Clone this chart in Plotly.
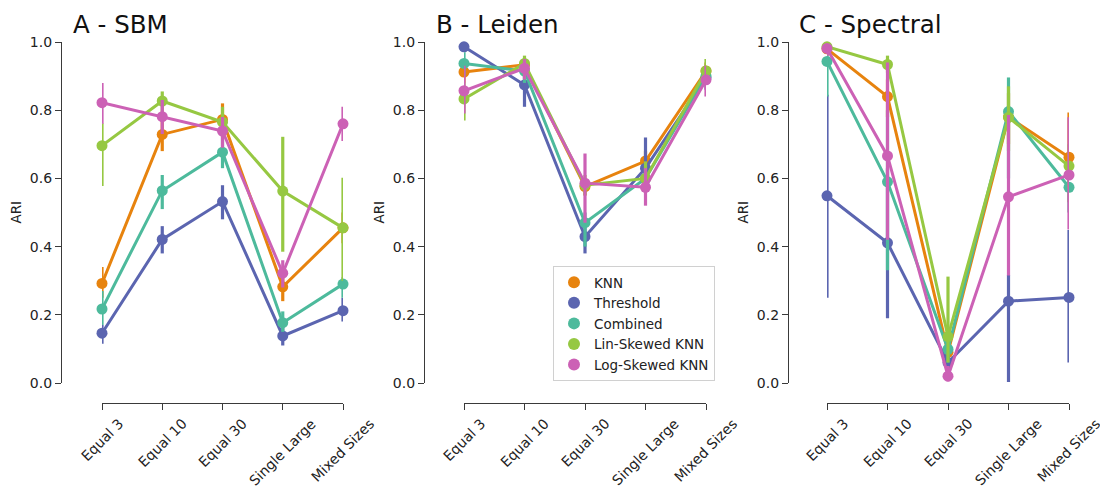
import plotly.graph_objects as go

# The page body has an 8px margin, so the figure is drawn 8px smaller and
# all layout pixel positions (taken from the 1108x489 screenshot) are shifted.
OFF = 8
FW, FH = 1108 - OFF, 489 - OFF

CATEGORIES = ["Equal 3", "Equal 10", "Equal 30", "Single Large", "Mixed Sizes"]
METHODS = ["KNN", "Threshold", "Combined", "Lin-Skewed KNN", "Log-Skewed KNN"]
COLORS = ["#E7830E", "#5B65B0", "#4DBA9C", "#96C842", "#CC61B5"]
PANEL_TITLES = ["A - SBM", "B - Leiden", "C - Spectral"]
YTICKS = [0.0, 0.2, 0.4, 0.6, 0.8, 1.0]

# ---- SBM ----
SBM_KNN = [0.292, 0.729, 0.773, 0.282, 0.455]
SBM_KNN_LO = [0.25, 0.68, 0.72, 0.24, 0.41]
SBM_KNN_HI = [0.34, 0.77, 0.82, 0.33, 0.50]
SBM_THR = [0.146, 0.421, 0.532, 0.138, 0.212]
SBM_THR_LO = [0.115, 0.38, 0.48, 0.11, 0.18]
SBM_THR_HI = [0.17, 0.46, 0.58, 0.17, 0.25]
SBM_COMB = [0.217, 0.564, 0.677, 0.177, 0.290]
SBM_COMB_LO = [0.17, 0.51, 0.63, 0.15, 0.25]
SBM_COMB_HI = [0.27, 0.61, 0.72, 0.21, 0.31]
SBM_LIN = [0.696, 0.827, 0.765, 0.563, 0.455]
SBM_LIN_LO = [0.578, 0.79, 0.73, 0.385, 0.30]
SBM_LIN_HI = [0.762, 0.855, 0.81, 0.722, 0.602]
SBM_LOG = [0.822, 0.781, 0.739, 0.322, 0.760]
SBM_LOG_LO = [0.76, 0.73, 0.69, 0.28, 0.71]
SBM_LOG_HI = [0.88, 0.83, 0.78, 0.36, 0.81]

# ---- Leiden ----
LEI_KNN = [0.912, 0.933, 0.576, 0.651, 0.915]
LEI_KNN_LO = [0.88, 0.91, 0.55, 0.62, 0.89]
LEI_KNN_HI = [0.94, 0.95, 0.60, 0.68, 0.94]
LEI_THR = [0.986, 0.874, 0.429, 0.630, 0.895]
LEI_THR_LO = [0.97, 0.81, 0.38, 0.56, 0.86]
LEI_THR_HI = [1.0, 0.93, 0.47, 0.72, 0.93]
LEI_COMB = [0.937, 0.915, 0.470, 0.600, 0.900]
LEI_COMB_LO = [0.90, 0.88, 0.40, 0.57, 0.87]
LEI_COMB_HI = [0.97, 0.94, 0.50, 0.63, 0.93]
LEI_LIN = [0.833, 0.937, 0.580, 0.600, 0.915]
LEI_LIN_LO = [0.77, 0.90, 0.55, 0.56, 0.88]
LEI_LIN_HI = [0.88, 0.96, 0.61, 0.65, 0.95]
LEI_LOG = [0.857, 0.923, 0.586, 0.574, 0.889]
LEI_LOG_LO = [0.79, 0.89, 0.47, 0.52, 0.84]
LEI_LOG_HI = [0.93, 0.95, 0.673, 0.63, 0.93]

# ---- Spectral ----
SPE_KNN = [0.980, 0.840, 0.09, 0.780, 0.662]
SPE_KNN_LO = [0.96, 0.78, 0.05, 0.70, 0.53]
SPE_KNN_HI = [0.99, 0.89, 0.14, 0.85, 0.793]
SPE_THR = [0.549, 0.411, 0.06, 0.240, 0.251]
SPE_THR_LO = [0.25, 0.19, 0.03, 0.003, 0.06]
SPE_THR_HI = [0.845, 0.63, 0.09, 0.317, 0.449]
SPE_COMB = [0.943, 0.590, 0.099, 0.796, 0.574]
SPE_COMB_LO = [0.84, 0.331, 0.06, 0.60, 0.50]
SPE_COMB_HI = [0.98, 0.80, 0.14, 0.896, 0.64]
SPE_LIN = [0.986, 0.934, 0.136, 0.779, 0.636]
SPE_LIN_LO = [0.97, 0.91, 0.06, 0.68, 0.57]
SPE_LIN_HI = [0.995, 0.96, 0.312, 0.87, 0.70]
SPE_LOG = [0.981, 0.666, 0.02, 0.546, 0.610]
SPE_LOG_LO = [0.96, 0.42, 0.005, 0.315, 0.45]
SPE_LOG_HI = [0.99, 0.94, 0.05, 0.786, 0.779]

PANELS = [
    [(SBM_KNN, SBM_KNN_LO, SBM_KNN_HI), (SBM_THR, SBM_THR_LO, SBM_THR_HI),
     (SBM_COMB, SBM_COMB_LO, SBM_COMB_HI), (SBM_LIN, SBM_LIN_LO, SBM_LIN_HI),
     (SBM_LOG, SBM_LOG_LO, SBM_LOG_HI)],
    [(LEI_KNN, LEI_KNN_LO, LEI_KNN_HI), (LEI_THR, LEI_THR_LO, LEI_THR_HI),
     (LEI_COMB, LEI_COMB_LO, LEI_COMB_HI), (LEI_LIN, LEI_LIN_LO, LEI_LIN_HI),
     (LEI_LOG, LEI_LOG_LO, LEI_LOG_HI)],
    [(SPE_KNN, SPE_KNN_LO, SPE_KNN_HI), (SPE_THR, SPE_THR_LO, SPE_THR_HI),
     (SPE_COMB, SPE_COMB_LO, SPE_COMB_HI), (SPE_LIN, SPE_LIN_LO, SPE_LIN_HI),
     (SPE_LOG, SPE_LOG_LO, SPE_LOG_HI)],
]

# layout geometry (screenshot pixels)
X_DOM = [(102, 343), (464, 706), (827, 1069)]
Y_AXIS_X = [61, 424, 788]
TITLE_X = [71, 434, 797]
YLAB_X = [15, 378, 742]
Y_TOP, Y_BOT, X_AXIS_Y = 42, 383, 403
XLAB_TOP = 413


def px(x):
    return (x - OFF) / FW


def py(y):
    return 1 - (y - OFF) / FH


FONT = "DejaVu Sans"
AX_COLOR = "#3a3a3a"

fig = go.Figure()
layout = dict(
    width=FW, height=FH, margin=dict(l=0, r=0, t=0, b=0, autoexpand=False),
    paper_bgcolor="white", plot_bgcolor="white",
    font=dict(family=FONT, size=14, color="#222"),
    showlegend=True,
    legend=dict(x=px(553), y=py(266), xanchor="left", yanchor="top",
                bgcolor="white", bordercolor="#d0d0d0", borderwidth=1,
                font=dict(family=FONT, size=13.5, color="#222"),
                itemsizing="constant", tracegroupgap=0),
)
annotations = []

for p in range(3):
    sfx = "" if p == 0 else str(p + 1)
    xa, ya = "x" + sfx, "y" + sfx
    for m, (vals, lo, hi) in enumerate(PANELS[p]):
        fig.add_trace(go.Scatter(
            x=CATEGORIES, y=vals, xaxis=xa, yaxis=ya,
            mode="lines+markers", name=METHODS[m], showlegend=False,
            line=dict(color=COLORS[m], width=3),
            marker=dict(color=COLORS[m], size=11),
            cliponaxis=False,
            error_y=dict(type="data", symmetric=False,
                         array=[h - v for h, v in zip(hi, vals)],
                         arrayminus=[v - l for v, l in zip(vals, lo)],
                         color=COLORS[m], thickness=3.2, width=0),
        ))
    layout["xaxis" + sfx] = dict(
        domain=[px(X_DOM[p][0]), px(X_DOM[p][1])], anchor="free",
        position=py(X_AXIS_Y), type="category",
        categoryorder="array", categoryarray=CATEGORIES,
        range=[0, 4], showgrid=False, zeroline=False, automargin=False,
        showline=True, linecolor=AX_COLOR, linewidth=1.2,
        ticks="outside", ticklen=6, tickwidth=1.2, tickcolor=AX_COLOR,
        showticklabels=False,
    )
    layout["yaxis" + sfx] = dict(
        domain=[py(Y_BOT), py(Y_TOP)], anchor="free",
        position=px(Y_AXIS_X[p]), range=[0, 1], automargin=False,
        tickvals=YTICKS, ticktext=[f"{v:.1f}" for v in YTICKS],
        showgrid=False, zeroline=False,
        showline=True, linecolor=AX_COLOR, linewidth=1.2,
        ticks="outside", ticklen=6, tickwidth=1.2, tickcolor=AX_COLOR,
        tickfont=dict(family=FONT, size=14, color="#222"),
    )
    # rotated category labels, centred under each tick (matplotlib style)
    for c in CATEGORIES:
        annotations.append(dict(
            text=c, xref=xa, x=c, yref="paper", y=py(XLAB_TOP),
            xanchor="center", yanchor="top", textangle=-45,
            showarrow=False, font=dict(family=FONT, size=14, color="#222"),
        ))
    annotations.append(dict(
        text=PANEL_TITLES[p], xref="paper", yref="paper",
        x=px(TITLE_X[p]), y=1.0, xanchor="left", yanchor="top",
        showarrow=False, font=dict(family=FONT, size=24.5, color="#111"),
    ))
    annotations.append(dict(
        text="ARI", xref="paper", yref="paper", textangle=-90,
        x=px(YLAB_X[p]), y=py((Y_TOP + Y_BOT) / 2),
        xanchor="center", yanchor="middle",
        showarrow=False, font=dict(family=FONT, size=13.5, color="#222"),
    ))

# legend entries (marker only)
for m in range(5):
    fig.add_trace(go.Scatter(
        x=[None], y=[None], mode="markers", name=METHODS[m],
        marker=dict(color=COLORS[m], size=11), showlegend=True,
        xaxis="x2", yaxis="y2",
    ))

layout["annotations"] = annotations
fig.update_layout(**layout)
fig.write_html("out.html")
